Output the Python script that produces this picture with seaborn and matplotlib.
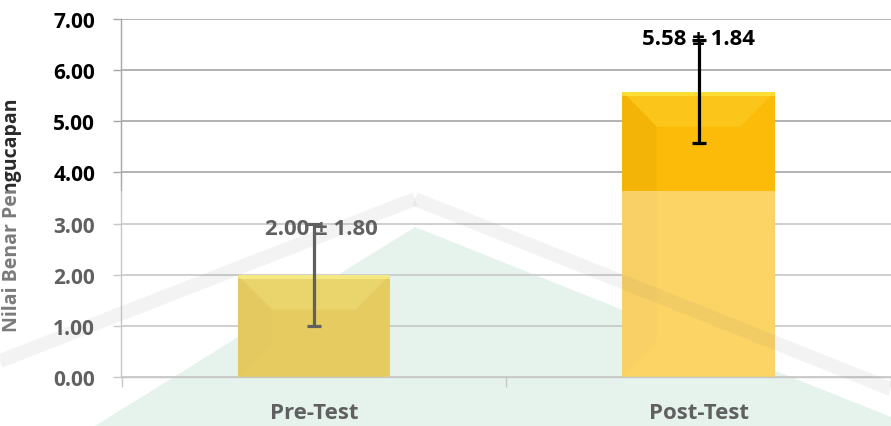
import numpy as np
import pandas as pd
import matplotlib
matplotlib.use('Agg')
import matplotlib.pyplot as plt
import seaborn as sns
from matplotlib.patches import Polygon, Rectangle
from matplotlib.lines import Line2D

# ---------------- data ----------------
categories = ['Pre-Test', 'Post-Test']
means = [2.00, 5.58]
sds = [1.80, 1.84]
errbar_drawn = [1.0, 1.0]          # error bar half-length as drawn in the chart
label_texts = ['2.00 \u00b1 1.80', '5.58 \u00b1 1.84']
label_y = [2.90, 6.61]
yticks = [0, 1, 2, 3, 4, 5, 6, 7]
ytick_labels = [f'{v:.2f}' for v in yticks]
ylabel = 'Nilai Benar Pengucapan'
bar_colors = ['#d7ae00', '#fbbb08']

# ---------------- figure ----------------
W, H = 891, 427
sns.set_theme(style='white')
FONT = ['Open Sans', 'DejaVu Sans']
plt.rcParams['font.family'] = FONT
plt.rcParams['font.weight'] = 'bold'

fig = plt.figure(figsize=(W / 100, H / 100), dpi=100)
fig.patch.set_facecolor('white')


def pf(x, y):
    return (x / W, 1 - y / H)


# watermark mint area (background)
mint = Polygon([pf(415, 228), pf(891, 418), pf(891, 427), pf(95, 427)], closed=True,
               transform=fig.transFigure, facecolor=(215 / 255, 237 / 255, 227 / 255),
               edgecolor='none', zorder=-5)
fig.patches.append(mint)

x_left_px, x_unit_px = 121.5, 390.0
ax = fig.add_axes([x_left_px / W, 1 - 378 / H, (W - x_left_px) / W, 358 / H])
ax.set_facecolor('none')

df = pd.DataFrame({'cat': categories, 'mean': means})
sns.barplot(data=df, x='cat', y='mean', hue='cat', palette=bar_colors, width=0.397,
            saturation=1, legend=False, ax=ax, zorder=2, edgecolor='none', errorbar=None)

ax.set_xlim(-0.5, 1 + (W - 706.5) / x_unit_px)
ax.set_ylim(0, 7)

# bevel shading on each bar
dy_unit = 358 / 7
for p in list(ax.patches):
    x0, y0 = p.get_x(), p.get_y()
    w, h = p.get_width(), p.get_height()
    x1, y1 = x0 + w, y0 + h
    dx = 35 / x_unit_px
    dy = min(35 / dy_unit, h / 2)
    top = Polygon([(x0, y1), (x1, y1), (x1 - dx, y1 - dy), (x0 + dx, y1 - dy)],
                  facecolor='#fff36a', alpha=0.18, edgecolor='none', zorder=2.1)
    left = Polygon([(x0, y0), (x0, y1), (x0 + dx, y1 - dy), (x0 + dx, y0 + dy)],
                   facecolor='#a06000', alpha=0.07, edgecolor='none', zorder=2.1)
    band = Rectangle((x0, y1 - 4 / dy_unit), w, 4 / dy_unit, facecolor='#fff450',
                     alpha=0.55, edgecolor='none', zorder=2.2)
    for q in (top, left, band):
        ax.add_patch(q)

ax.errorbar(x=[0, 1], y=means, yerr=errbar_drawn, fmt='none', ecolor='black',
            elinewidth=2.3, capsize=4.8, capthick=2.3, zorder=4)

for i, (t, yy) in enumerate(zip(label_texts, label_y)):
    xo = 0.02 if i == 0 else 0.0
    ax.text(i + xo, yy, t, ha='center', va='center', fontsize=16, fontweight='bold',
            color='black', zorder=5, family=FONT)

# grid and axes
grid_c = '#a6a6a6'
ax.set_yticks(yticks)
ax.set_yticklabels(ytick_labels, fontweight='bold', family=FONT)
ax.yaxis.grid(True, color=grid_c, linewidth=1.2)
ax.set_axisbelow(True)
for s in ('top', 'right'):
    ax.spines[s].set_visible(False)
for s in ('left', 'bottom'):
    ax.spines[s].set_color(grid_c)
    ax.spines[s].set_linewidth(1.0)
ax.tick_params(axis='y', which='major', length=6, width=1.0, color=grid_c, pad=13,
               labelsize=15, labelcolor='black', left=True)

ax.set_xticks([0, 1])
ax.set_xticklabels(categories, fontweight='bold', family=FONT)
ax.set_xticks([-0.5, 0.5, 1.5], minor=True)
ax.tick_params(axis='x', which='major', length=0, pad=18, labelsize=16, labelcolor='black')
ax.tick_params(axis='x', which='minor', length=7, width=1.0, color=grid_c, bottom=True)
ax.set_xlabel('')
ax.set_ylabel(ylabel, fontsize=14, fontweight='bold', color='#2a2a2a', family=FONT)
ax.yaxis.set_label_coords((22 - x_left_px) / (W - x_left_px), (378 - 215) / 358)

# faint watermark stripes
for (xa, ya, xb, yb) in [(415, 200, 0, 362), (415, 200, 891, 390)]:
    fig.lines.append(Line2D([xa / W, xb / W], [1 - ya / H, 1 - yb / H], transform=fig.transFigure,
                            color='black', alpha=0.07, linewidth=10, zorder=50,
                            solid_capstyle='butt'))

# watermark lightening of the lower part
fig.patches.append(Rectangle((0, 0), 1, 1 - 192 / H, transform=fig.transFigure,
                             facecolor='white', alpha=0.38, edgecolor='none', zorder=100))

fig.savefig('out.png', dpi=100)
